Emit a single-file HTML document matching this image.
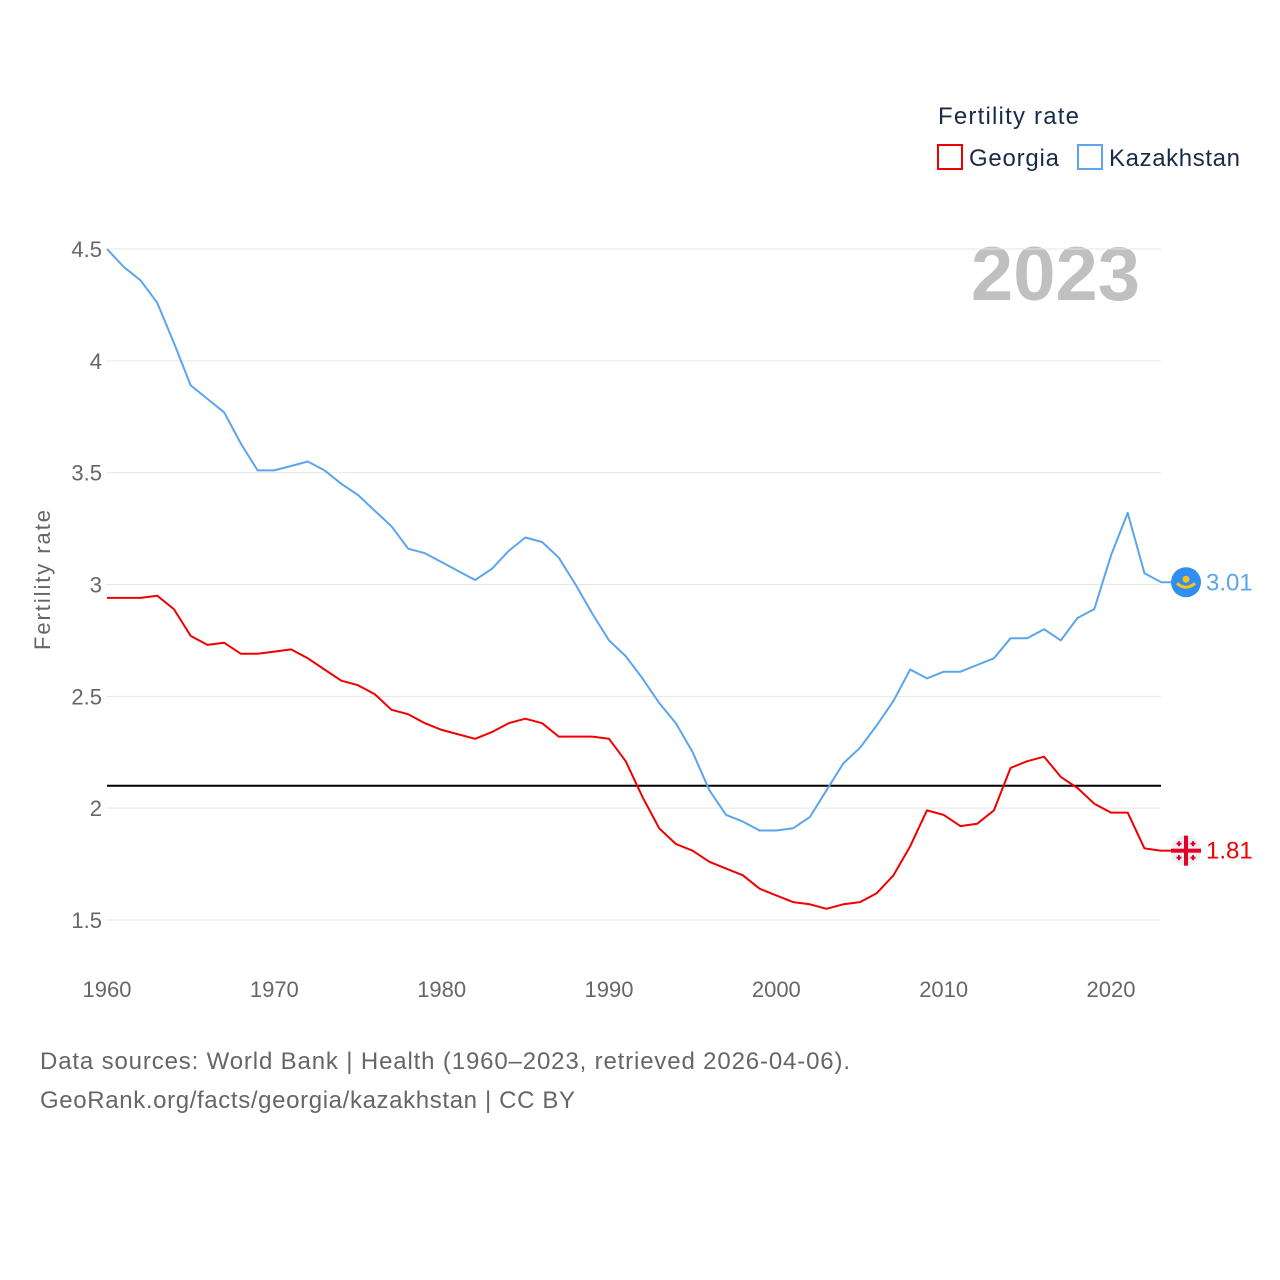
<!DOCTYPE html>
<html><head><meta charset="utf-8">
<style>
body{margin:0;background:#fff;font-family:"Liberation Sans",sans-serif;}
svg{display:block}
</style></head>
<body>
<svg id="chart" width="1280" height="1280" xmlns="http://www.w3.org/2000/svg">
  <text x="938" y="124" font-size="24" fill="#1a2b4a" textLength="141">Fertility rate</text>
  <g>
    <rect x="938" y="145" width="24" height="24" fill="none" stroke="#f00000" stroke-width="2"/>
    <text x="969" y="166" font-size="24" fill="#1a2b4a" textLength="90">Georgia</text>
  </g>
  <g>
    <rect x="1078" y="145" width="24" height="24" fill="none" stroke="#5aa5ee" stroke-width="2"/>
    <text x="1109" y="166" font-size="24" fill="#1a2b4a" textLength="131">Kazakhstan</text>
  </g>
  <text x="1140" y="300" font-size="76" font-weight="bold" fill="#c0c0c0" text-anchor="end">2023</text>
  <text transform="translate(50,580) rotate(-90)" font-size="22" fill="#666" text-anchor="middle" textLength="140">Fertility rate</text>
  <g id="grid"></g>
  <g id="series"></g>
  <text x="40" y="1069" font-size="24" fill="#666" textLength="810">Data sources: World Bank | Health (1960–2023, retrieved 2026-04-06).</text>
  <text x="40" y="1108" font-size="24" fill="#666" textLength="535">GeoRank.org/facts/georgia/kazakhstan | CC BY</text>
</svg>
<script>
const years = Array.from({length:64},(_,i)=>1960+i);
const kazakhstan = [4.50,4.42,4.36,4.26,4.08,3.89,3.83,3.77,3.63,3.51,3.51,3.53,3.55,3.51,3.45,3.40,3.33,3.26,3.16,3.14,3.10,3.06,3.02,3.07,3.15,3.21,3.19,3.12,3.00,2.87,2.75,2.68,2.58,2.47,2.38,2.25,2.08,1.97,1.94,1.90,1.90,1.91,1.96,2.08,2.20,2.27,2.37,2.48,2.62,2.58,2.61,2.61,2.64,2.67,2.76,2.76,2.80,2.75,2.85,2.89,3.13,3.32,3.05,3.01];
const georgia = [2.94,2.94,2.94,2.95,2.89,2.77,2.73,2.74,2.69,2.69,2.70,2.71,2.67,2.62,2.57,2.55,2.51,2.44,2.42,2.38,2.35,2.33,2.31,2.34,2.38,2.40,2.38,2.32,2.32,2.32,2.31,2.21,2.05,1.91,1.84,1.81,1.76,1.73,1.70,1.64,1.61,1.58,1.57,1.55,1.57,1.58,1.62,1.70,1.83,1.99,1.97,1.92,1.93,1.99,2.18,2.21,2.23,2.14,2.09,2.02,1.98,1.98,1.82,1.81];
const yTicks = [1.5,2,2.5,3,3.5,4,4.5];
const xTicks = [1960,1970,1980,1990,2000,2010,2020];
const replacement = 2.1;

const NS="http://www.w3.org/2000/svg";
const X = y => 107 + (y-1960)*(1111-107)/60;
const Y = v => 920 - (v-1.5)*(920-249)/3;
function mk(tag, attrs, parent){const e=document.createElementNS(NS,tag);for(const k in attrs)e.setAttribute(k,attrs[k]);parent.appendChild(e);return e;}
const grid=document.getElementById('grid'), series=document.getElementById('series');
yTicks.forEach(t=>{
  const l=mk('line',{x1:107,x2:1161,y1:Y(t),y2:Y(t),stroke:'#e6e6e6','stroke-width':1},grid);
  
  
  const tx=mk('text',{x:102,y:Y(t)+8,'font-size':22,fill:'#666','text-anchor':'end'},grid);
  tx.textContent=String(t);
  
  
});
xTicks.forEach(t=>{
  const tx=mk('text',{x:X(t),y:997,'font-size':22,fill:'#666','text-anchor':'middle'},grid);
  tx.textContent=String(t);
  
  
});
const rl=mk('line',{x1:107,x2:1161,y1:Y(replacement),y2:Y(replacement),stroke:'#000','stroke-width':2},grid);



function line(vals,color,name){
  const d=vals.map((v,i)=>(i?'L':'M')+X(years[i]).toFixed(1)+','+Y(v).toFixed(1)).join(' ');
  const p=mk('path',{d:d,fill:'none',stroke:color,'stroke-width':2,'stroke-linejoin':'round'},series);
  
  
}
line(kazakhstan,'#5aa5ee','kazakhstan-line');
line(georgia,'#f00000','georgia-line');

const kv=kazakhstan[kazakhstan.length-1], gv=georgia[georgia.length-1];
const ky=Y(kv), gy=Y(gv);
const kg=mk('g',{},series);


mk('line',{x1:1161,x2:1172,y1:ky,y2:ky,stroke:'#5aa5ee','stroke-width':2},kg);
mk('circle',{cx:1186,cy:ky,r:15,fill:'#2f8ef0'},kg);
mk('circle',{cx:1186,cy:ky-3,r:3.5,fill:'#f5c518'},kg);
mk('path',{d:`M1177 ${ky+1} Q1186 ${ky+9} 1195 ${ky+1}`,fill:'none',stroke:'#f5c518','stroke-width':3},kg);
const kt=mk('text',{x:1206,y:ky+8,'font-size':24,fill:'#5aa5ee'},series);
kt.textContent=kv.toFixed(2);



const gg=mk('g',{},series);


mk('line',{x1:1161,x2:1172,y1:gy,y2:gy,stroke:'#f00000','stroke-width':2},gg);
mk('circle',{cx:1186,cy:gy,r:15,fill:'#eeeeee'},gg);
mk('rect',{x:1184,y:gy-15,width:4,height:30,fill:'#e0002a'},gg);
mk('rect',{x:1171,y:gy-2,width:30,height:4,fill:'#e0002a'},gg);
[[-7,-7],[7,-7],[-7,7],[7,7]].forEach(([dx,dy])=>{
  mk('rect',{x:1186+dx-2.5,y:gy+dy-1,width:5,height:2,fill:'#e0002a'},gg);
  mk('rect',{x:1186+dx-1,y:gy+dy-2.5,width:2,height:5,fill:'#e0002a'},gg);
});
const gt=mk('text',{x:1206,y:gy+8,'font-size':24,fill:'#f00000'},series);
gt.textContent=gv.toFixed(2);


</script>
</body></html>
